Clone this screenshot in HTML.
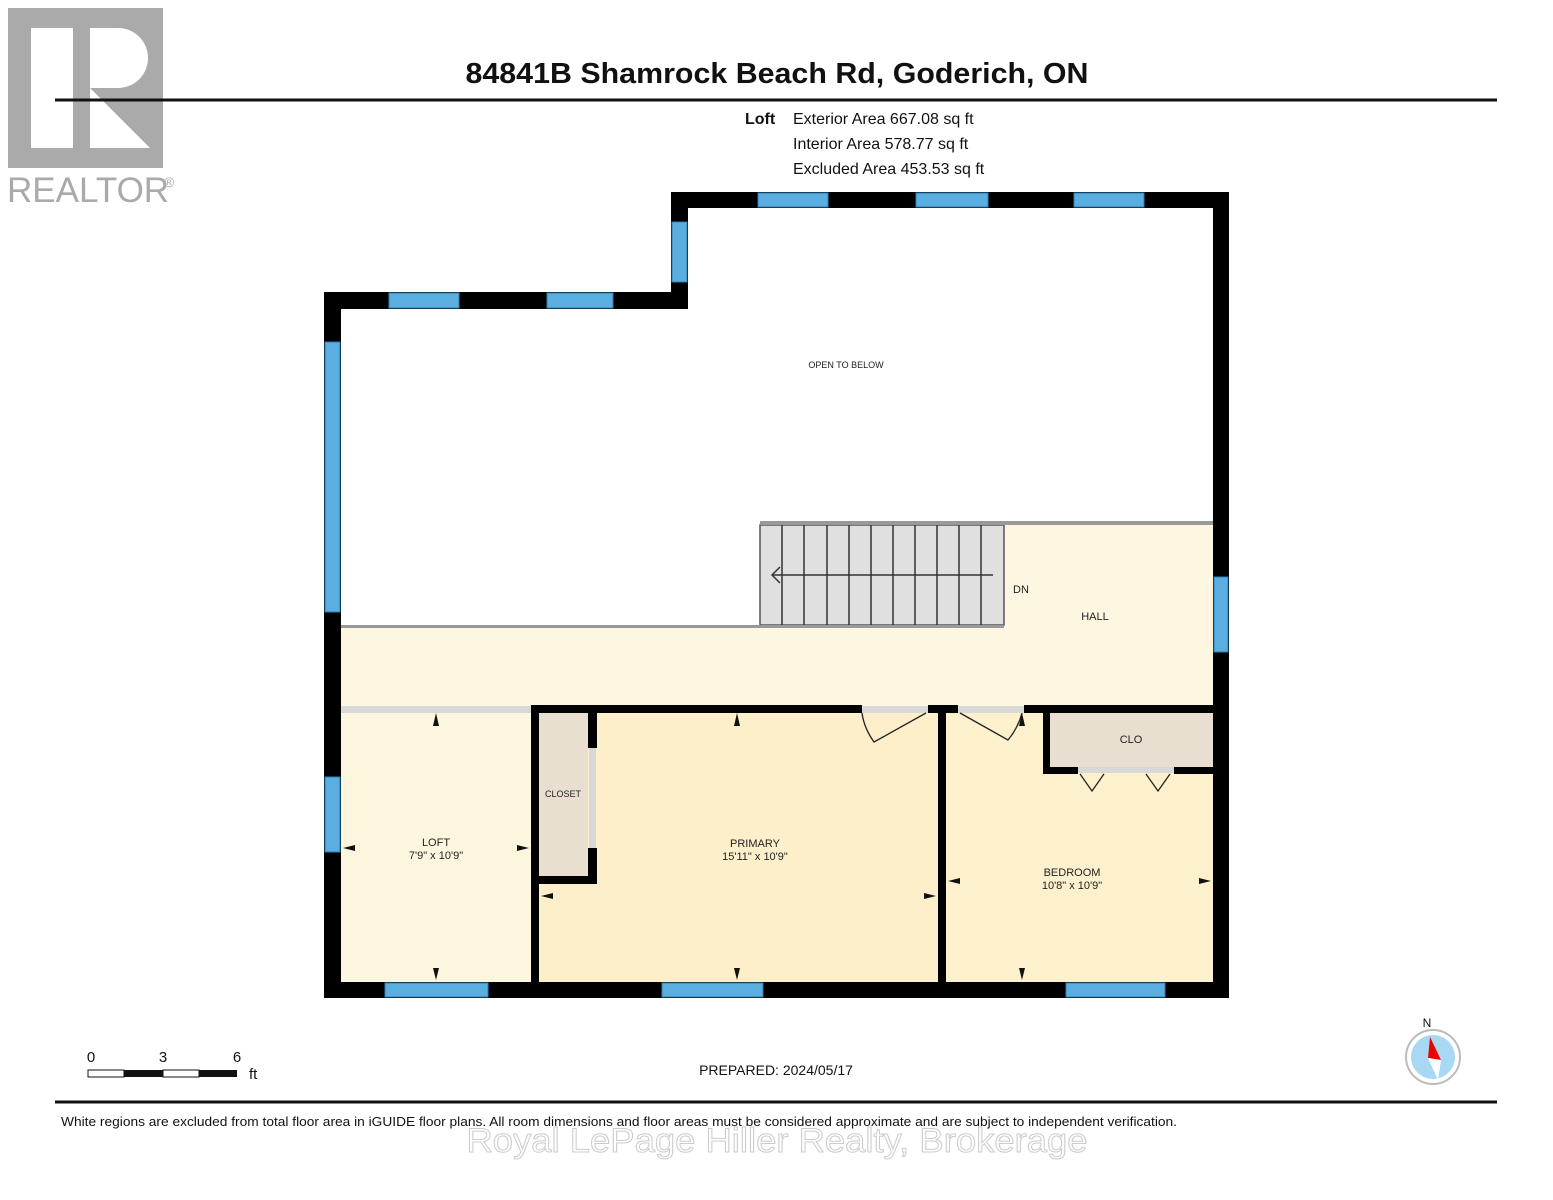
<!DOCTYPE html>
<html><head><meta charset="utf-8"><style>
html,body{margin:0;padding:0;background:#fff;}
svg{display:block;font-family:"Liberation Sans",Arial,sans-serif;}
</style></head><body>
<svg width="1553" height="1200" viewBox="0 0 1553 1200" xmlns="http://www.w3.org/2000/svg">
<!-- realtor logo -->
<rect x="8" y="8" width="155" height="160" fill="#aaa"/>
<rect x="31" y="28" width="42" height="120" fill="#fff"/>
<path d="M90 28 H118 A30 30 0 0 1 118 88 H90 Z" fill="#fff"/>
<path d="M90 88 L150 148 H90 Z" fill="#fff"/>
<text x="7" y="202" font-size="35" fill="#aaa">REALTOR</text>
<text x="164" y="187" font-size="14" fill="#aaa">®</text>
<!-- header -->
<text x="777" y="83" font-size="29" font-weight="bold" text-anchor="middle" fill="#111" textLength="623" lengthAdjust="spacingAndGlyphs">84841B Shamrock Beach Rd, Goderich, ON</text>
<line x1="55" y1="100" x2="1497" y2="100" stroke="#111" stroke-width="3"/>
<text x="745" y="124" font-size="16" font-weight="bold" fill="#111">Loft</text>
<text x="793" y="124" font-size="16" fill="#111">Exterior Area 667.08 sq ft</text>
<text x="793" y="149" font-size="16" fill="#111">Interior Area 578.77 sq ft</text>
<text x="793" y="174" font-size="16" fill="#111">Excluded Area 453.53 sq ft</text>
<!-- floors -->
<rect x="341" y="628" width="872" height="80" fill="#fdf6e1"/>
<rect x="1004" y="525" width="209" height="103" fill="#fdf6e1"/>
<rect x="341" y="713" width="190" height="269" fill="#fdf6df"/>
<rect x="539" y="713" width="399" height="269" fill="#fcefc9"/>
<rect x="946" y="713" width="267" height="269" fill="#fdf1cd"/>
<rect x="539" y="713" width="49" height="163" fill="#e8dfd0"/>
<rect x="1050" y="713" width="163" height="54" fill="#e8dfd0"/>
<!-- stairs -->
<rect x="760" y="525" width="244" height="100" fill="#e0e0e0" stroke="#555" stroke-width="1.5"/>
<g stroke="#333" stroke-width="1.5">
<line x1="782" y1="525" x2="782" y2="625"/><line x1="804" y1="525" x2="804" y2="625"/>
<line x1="827" y1="525" x2="827" y2="625"/><line x1="849" y1="525" x2="849" y2="625"/>
<line x1="871" y1="525" x2="871" y2="625"/><line x1="893" y1="525" x2="893" y2="625"/>
<line x1="915" y1="525" x2="915" y2="625"/><line x1="937" y1="525" x2="937" y2="625"/>
<line x1="959" y1="525" x2="959" y2="625"/><line x1="981" y1="525" x2="981" y2="625"/>
<line x1="772" y1="575" x2="993" y2="575"/>
<polyline points="780,567 772,575 780,583" fill="none"/>
</g>
<rect x="760" y="521" width="453" height="4" fill="#999"/>
<rect x="341" y="625" width="663" height="3" fill="#999"/>
<!-- outer walls -->
<g fill="#000">
<rect x="324" y="292" width="364" height="17"/>
<rect x="671" y="192" width="17" height="117"/>
<rect x="671" y="192" width="558" height="16"/>
<rect x="1213" y="192" width="16" height="806"/>
<rect x="324" y="982" width="905" height="16"/>
<rect x="324" y="292" width="17" height="706"/>
<rect x="531" y="705" width="8" height="277"/>
<rect x="531" y="705" width="331" height="8"/>
<rect x="928" y="705" width="30" height="8"/>
<rect x="1024" y="705" width="189" height="8"/>
<rect x="938" y="705" width="8" height="277"/>
<rect x="588" y="705" width="9" height="43"/>
<rect x="588" y="848" width="9" height="36"/>
<rect x="539" y="876" width="58" height="8"/>
<rect x="1043" y="705" width="7" height="69"/>
<rect x="1043" y="767" width="35" height="7"/>
<rect x="1174" y="767" width="39" height="7"/>
</g>
<g fill="#d8d8d8">
<rect x="341" y="706" width="190" height="7"/>
<rect x="862" y="706" width="66" height="7"/>
<rect x="958" y="706" width="66" height="7"/>
<rect x="589" y="748" width="7" height="100"/>
<rect x="1078" y="767" width="96" height="6"/>
</g>
<g stroke="#222" stroke-width="1.3" fill="none">
<path d="M926 713 L874 742 Q864 728 862 713"/>
<path d="M960 713 L1008 740 Q1018 728 1022 713"/>
<polyline points="1080,774 1092,791 1104,774"/>
<polyline points="1146,774 1158,791 1170,774"/>
</g>
<g fill="#5aaee0" stroke="#2b7fb5" stroke-width="1">
<rect x="758" y="193" width="70" height="14"/><rect x="916" y="193" width="72" height="14"/><rect x="1074" y="193" width="70" height="14"/>
<rect x="672" y="222" width="15" height="60"/>
<rect x="389" y="293" width="70" height="15"/><rect x="547" y="293" width="66" height="15"/>
<rect x="325" y="342" width="15" height="270"/><rect x="325" y="777" width="15" height="75"/>
<rect x="1214" y="577" width="14" height="75"/>
<rect x="385" y="983" width="103" height="14"/><rect x="662" y="983" width="101" height="14"/><rect x="1066" y="983" width="99" height="14"/>
</g>
<g fill="#111">
<path d="M436 713 l-3 13 h6z"/><path d="M436 980 l-3 -12 h6z"/>
<path d="M343 848 l12 -3 v6z"/><path d="M529 848 l-12 -3 v6z"/>
<path d="M737 713 l-3 13 h6z"/><path d="M737 980 l-3 -12 h6z"/>
<path d="M541 896 l12 -3 v6z"/><path d="M936 896 l-12 -3 v6z"/>
<path d="M1022 713 l-3 13 h6z"/><path d="M1022 980 l-3 -12 h6z"/>
<path d="M948 881 l12 -3 v6z"/><path d="M1211 881 l-12 -3 v6z"/>
</g>
<g font-size="11" fill="#222" text-anchor="middle">
<text x="846" y="368" font-size="9">OPEN TO BELOW</text>
<text x="1021" y="593">DN</text>
<text x="1095" y="620">HALL</text>
<text x="1131" y="743">CLO</text>
<text x="563" y="797" font-size="9">CLOSET</text>
<text x="436" y="846">LOFT</text><text x="436" y="859">7'9" x 10'9"</text>
<text x="755" y="847">PRIMARY</text><text x="755" y="860">15'11" x 10'9"</text>
<text x="1072" y="876">BEDROOM</text><text x="1072" y="889">10'8" x 10'9"</text>
</g>
<text x="91" y="1062" font-size="15" text-anchor="middle" fill="#111">0</text>
<text x="163" y="1062" font-size="15" text-anchor="middle" fill="#111">3</text>
<text x="237" y="1062" font-size="15" text-anchor="middle" fill="#111">6</text>
<rect x="88" y="1070" width="36" height="7" fill="#fff" stroke="#111" stroke-width="1"/>
<rect x="124" y="1070" width="39" height="7" fill="#111"/>
<rect x="163" y="1070" width="36" height="7" fill="#fff" stroke="#111" stroke-width="1"/>
<rect x="199" y="1070" width="38" height="7" fill="#111"/>
<text x="249" y="1079" font-size="15" fill="#111">ft</text>
<text x="776" y="1075" font-size="14" text-anchor="middle" fill="#111">PREPARED: 2024/05/17</text>
<text x="1427" y="1027" font-size="12" text-anchor="middle" fill="#111">N</text>
<circle cx="1433" cy="1057" r="27" fill="#fff" stroke="#bbb" stroke-width="2"/>
<circle cx="1433" cy="1057" r="22" fill="#a8d8f4"/>
<path d="M1430 1037 L1441 1060 L1428 1058 Z" fill="#e00"/>
<path d="M1428 1058 L1441 1060 L1438 1080 Z" fill="#fff"/>
<line x1="55" y1="1102" x2="1497" y2="1102" stroke="#111" stroke-width="3"/>
<text x="61" y="1126" font-size="13" fill="#111" textLength="1116" lengthAdjust="spacingAndGlyphs">White regions are excluded from total floor area in iGUIDE floor plans. All room dimensions and floor areas must be considered approximate and are subject to independent verification.</text>
<text x="777" y="1152" font-size="34" text-anchor="middle" fill="#fff" stroke="#ccc" stroke-width="1" textLength="621" lengthAdjust="spacingAndGlyphs">Royal LePage Hiller Realty, Brokerage</text>
</svg>
</body></html>
